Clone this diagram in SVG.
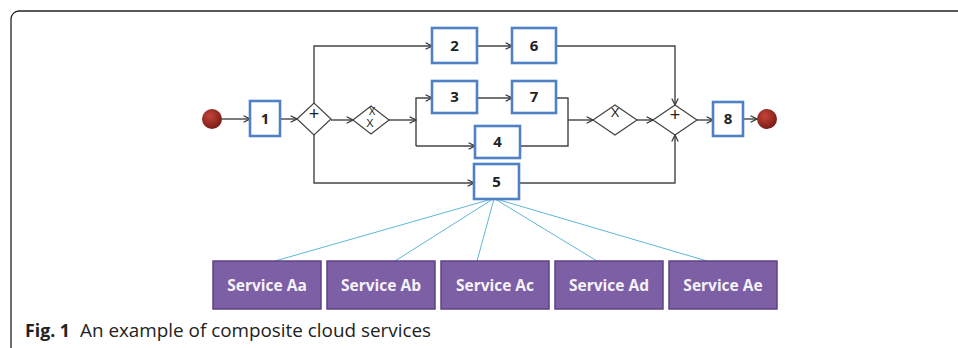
<svg xmlns="http://www.w3.org/2000/svg" width="958" height="348" viewBox="0 0 958 348">
<style>
.frame{fill:none;stroke:#222;stroke-width:1.3}
.task{fill:#fff;stroke:#4f81c4;stroke-width:2.6}
.num{font-family:"Open Sans","Liberation Sans",sans-serif;font-weight:bold;font-size:15px;fill:#222;text-anchor:middle}
.gw{fill:#fff;stroke:#444;stroke-width:1.2}
.gm{font-family:"Liberation Sans",sans-serif;font-size:13px;fill:#222;text-anchor:middle}
.flow{fill:none;stroke:#444;stroke-width:1.4}
.ln{fill:none;stroke:#5fb6d6;stroke-width:1}
.svc{fill:#7d5fa5;stroke:#5d4384;stroke-width:1.5}
.st{font-family:"Open Sans","Liberation Sans",sans-serif;font-weight:bold;font-size:15.5px;fill:#f6f2fa;text-anchor:middle}
.cap{font-family:"Open Sans","Liberation Sans",sans-serif;font-size:18px;fill:#222}
</style>
<defs>
<marker id="ar" viewBox="0 0 10 10" refX="9" refY="5" markerWidth="8" markerHeight="8" markerUnits="userSpaceOnUse" orient="auto">
<path d="M1,1 L9,5 L1,9" fill="none" stroke="#333" stroke-width="1.5"/>
</marker>
<radialGradient id="ball" cx="40%" cy="35%" r="65%">
<stop offset="0" stop-color="#c4443a"/>
<stop offset="1" stop-color="#7a1c16"/>
</radialGradient>
</defs>
<path class="frame" d="M958,11 H19 A8,8 0 0 0 11,19 V348"/>
<g id="connectors">
<line class="flow" x1="222" y1="119" x2="250" y2="119" marker-end="url(#ar)"/>
<line class="flow" x1="280" y1="119" x2="297" y2="119" marker-end="url(#ar)"/>
<polyline class="flow" points="314,103 314,46 432,46" marker-end="url(#ar)"/>
<polyline class="flow" points="314,135 314,183 474,183" marker-end="url(#ar)"/>
<line class="flow" x1="331" y1="120" x2="353" y2="120" marker-end="url(#ar)"/>
<line class="flow" x1="389" y1="120" x2="416" y2="120" marker-end="url(#ar)"/>
<polyline class="flow" points="416,146 416,98 432,98" marker-end="url(#ar)"/>
<line class="flow" x1="416" y1="146" x2="475" y2="146" marker-end="url(#ar)"/>
<line class="flow" x1="477" y1="46" x2="512" y2="46" marker-end="url(#ar)"/>
<line class="flow" x1="477" y1="98" x2="512" y2="98" marker-end="url(#ar)"/>
<polyline class="flow" points="556,46 675,46 675,105" marker-end="url(#ar)"/>
<polyline class="flow" points="556,98 568,98 568,146 520,146"/>
<line class="flow" x1="568" y1="120" x2="593" y2="120" marker-end="url(#ar)"/>
<line class="flow" x1="637" y1="120" x2="653" y2="120" marker-end="url(#ar)"/>
<line class="flow" x1="697" y1="120" x2="713" y2="120" marker-end="url(#ar)"/>
<line class="flow" x1="743" y1="119" x2="757" y2="119" marker-end="url(#ar)"/>
<polyline class="flow" points="519,183 675,183 675,135" marker-end="url(#ar)"/>
<line class="ln" x1="492" y1="199" x2="275" y2="261"/>
<line class="ln" x1="493" y1="199" x2="395" y2="261"/>
<line class="ln" x1="494" y1="199" x2="477" y2="261"/>
<line class="ln" x1="495" y1="199" x2="597" y2="261"/>
<line class="ln" x1="496" y1="199" x2="707" y2="261"/>
</g>
<g id="start"><circle cx="212" cy="119" r="10" fill="url(#ball)"/></g>
<g id="end"><circle cx="767" cy="119" r="10" fill="url(#ball)"/></g>
<g id="n1"><rect class="task" x="250" y="101" width="30" height="35"/><text class="num" x="265" y="124">1</text></g>
<g id="n2"><rect class="task" x="432" y="28" width="45" height="35"/><text class="num" x="454.5" y="51">2</text></g>
<g id="n3"><rect class="task" x="432" y="81" width="45" height="32"/><text class="num" x="454.5" y="102">3</text></g>
<g id="n4"><rect class="task" x="475" y="126" width="45" height="32"/><text class="num" x="497.5" y="147">4</text></g>
<g id="n5"><rect class="task" x="474" y="164" width="45" height="35"/><text class="num" x="496.5" y="187">5</text></g>
<g id="n6"><rect class="task" x="512" y="28" width="44" height="35"/><text class="num" x="534" y="51">6</text></g>
<g id="n7"><rect class="task" x="512" y="81" width="44" height="32"/><text class="num" x="534" y="102">7</text></g>
<g id="n8"><rect class="task" x="713" y="102" width="30" height="34"/><text class="num" x="728" y="124">8</text></g>
<g id="g1"><polygon class="gw" points="297,119 314,103 331,119 314,135"/><text class="gm" x="314" y="120" style="font-size:18px">+</text></g>
<g id="g2"><polygon class="gw" points="353,120 371,106 389,120 371,134"/><text class="gm" x="372" y="115" style="font-size:10px">X</text><text class="gm" x="370" y="127" style="font-size:11px">X</text></g>
<g id="g3"><polygon class="gw" points="593,120 615,105 637,120 615,135"/><text class="gm" x="615" y="117">X</text></g>
<g id="g4"><polygon class="gw" points="653,120 675,105 697,120 675,135"/><text class="gm" x="675" y="121" style="font-size:18px">+</text></g>
<g id="sa"><rect class="svc" x="213" y="261" width="108" height="48"/><text class="st" x="267" y="291">Service Aa</text></g>
<g id="sb"><rect class="svc" x="327" y="261" width="108" height="48"/><text class="st" x="381" y="291">Service Ab</text></g>
<g id="sc"><rect class="svc" x="441" y="261" width="108" height="48"/><text class="st" x="495" y="291">Service Ac</text></g>
<g id="sd"><rect class="svc" x="555" y="261" width="108" height="48"/><text class="st" x="609" y="291">Service Ad</text></g>
<g id="se"><rect class="svc" x="669" y="261" width="108" height="48"/><text class="st" x="723" y="291">Service Ae</text></g>
<text class="cap" x="25" y="337"><tspan font-weight="bold" textLength="45" lengthAdjust="spacingAndGlyphs">Fig. 1</tspan><tspan x="80" textLength="351" lengthAdjust="spacingAndGlyphs">An example of composite cloud services</tspan></text>
</svg>
